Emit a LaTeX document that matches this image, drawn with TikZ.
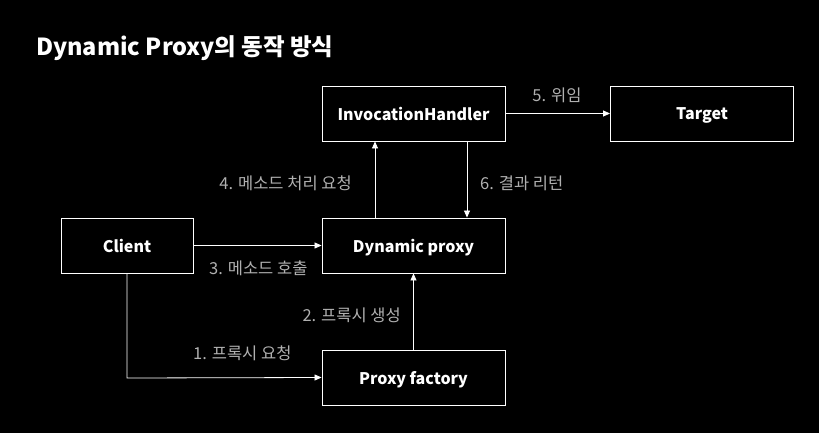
\documentclass[tikz,border=0pt]{standalone}
\usepackage{fontspec}
\setmainfont{Noto Sans CJK KR}
\usetikzlibrary{arrows.meta}
\definecolor{lbl}{HTML}{B0B0B0}
\tikzset{
  box/.style={draw=white, line width=0.9pt, fill=black, text=white, minimum height=55pt, inner sep=0pt, text depth=0pt, font=\fontsize{16}{18}\selectfont\bfseries},
  wide/.style={box, minimum width=183pt},
  narrow/.style={box, minimum width=132pt},
  conn/.style={draw=white, line width=0.8pt, -{Triangle[length=7pt,width=6pt]}},
  lab/.style={text=lbl, inner sep=0pt, font=\fontsize{16.5}{18}\selectfont}
}
\begin{document}
\begin{tikzpicture}[x=1pt,y=-1pt]
\fill[black] (0,0) rectangle (819,433);
\useasboundingbox (0,0) rectangle (819,433);
\node[anchor=west, text=white, inner sep=0pt, font=\fontsize{23.5}{26}\selectfont\bfseries] (title) at (36,48) {Dynamic Proxy의 동작 방식};
\node[wide] (ih) at (413.5,113.5) {InvocationHandler};
\node[wide] (tg) at (702,113.5) {Target};
\node[narrow] (cl) at (127,245.5) {Client};
\node[wide] (dp) at (413.5,245.5) {Dynamic proxy};
\node[wide] (pf) at (413.5,377.5) {Proxy factory};
\coordinate (c4) at (375,0);
\coordinate (c6) at (467,0);
\coordinate (corner) at (127,378);
\draw[conn] (ih.east) -- (tg.west);
\draw[conn] (dp.north -| c4) -- (ih.south -| c4);
\draw[conn] (ih.south -| c6) -- (dp.north -| c6);
\draw[conn] (cl.east) -- (dp.west);
\draw[conn] (pf.north) -- (dp.south);
\draw[conn] (cl.south) -- (corner) -- (pf.west);
\node[lab] (l5) at (557,95) {5. 위임};
\node[lab, anchor=east] (l4) at (352,183) {4. 메소드 처리 요청};
\node[lab, anchor=west] (l6) at (480,183) {6. 결과 리턴};
\node[lab, anchor=west] (l3) at (209,268) {3. 메소드 호출};
\node[lab, anchor=east] (l2) at (401,315) {2. 프록시 생성};
\node[lab, anchor=west] (l1) at (193,353) {1. 프록시 요청};
\end{tikzpicture}
\end{document}
